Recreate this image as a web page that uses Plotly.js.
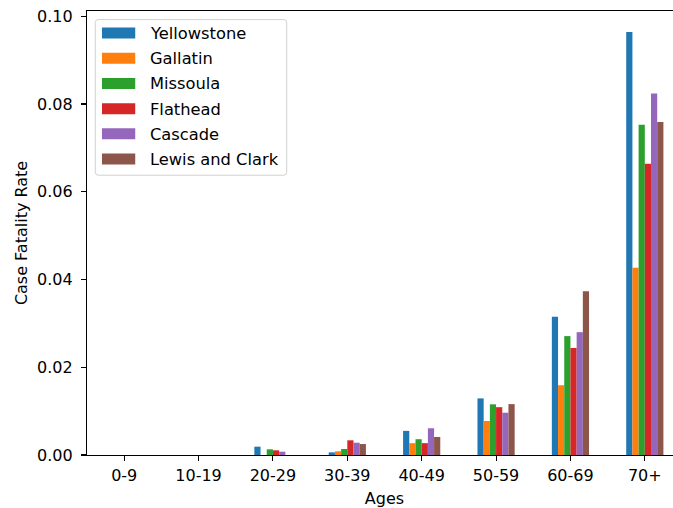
<!DOCTYPE html>
<html>
<head>
<meta charset="utf-8">
<script src="https://cdn.plot.ly/plotly-3.0.1.min.js"></script>
<style>
  html, body { margin: 0; padding: 0; overflow: hidden; background: #fff; }
  #chart { width: 700px; height: 508px; }
</style>
</head>
<body>
<div id="chart"></div>
<script>
// Case fatality rate by age group for six Montana counties
const ageGroups = ["0-9", "10-19", "20-29", "30-39", "40-49", "50-59", "60-69", "70+"];

const yellowstone   = [0, 0, 0.0019,  0.0006,  0.0055, 0.0129,  0.0315, 0.0964];
const gallatin      = [0, 0, 0,       0.00084, 0.0027, 0.00775, 0.0159, 0.0427];
const missoula      = [0, 0, 0.0013,  0.00137, 0.0036, 0.01155, 0.0271, 0.0753];
const flathead      = [0, 0, 0.00107, 0.00335, 0.0027, 0.0109,  0.0244, 0.0664];
const cascade       = [0, 0, 0.00075, 0.0028,  0.0061, 0.00964, 0.0280, 0.0824];
const lewisAndClark = [0, 0, 0,       0.0025,  0.0041, 0.0116,  0.0373, 0.0759];

const countyNames = ["Yellowstone", "Gallatin", "Missoula", "Flathead", "Cascade", "Lewis and Clark"];
const countyValues = [yellowstone, gallatin, missoula, flathead, cascade, lewisAndClark];
const countyColors = ["#1f77b4", "#ff7f0e", "#2ca02c", "#d62728", "#9467bd", "#8c564b"];

const FONT = "DejaVu Sans, sans-serif";
const FS = 16;

const traces = countyNames.map((name, i) => ({
  type: "bar",
  name: name,
  x: ageGroups,
  y: countyValues[i],
  marker: { color: countyColors[i], line: { width: 0 } },
  showlegend: false,
  hoverinfo: "x+y+name"
}));

// Plot-area geometry in pixels, used to place the legend box
const W = 700, H = 508;
const M = { l: 86.7, r: 17.5, t: 10.7, b: 53 };
const plotW = W - M.l - M.r, plotH = H - M.t - M.b;
const px = v => (v - M.l) / plotW;
const py = v => (H - M.b - v) / plotH;

// Legend frame (rounded rectangle) drawn in paper coordinates
const box = { x0: 95, y0: 19.3, x1: 286.7, y1: 175, r: 3 };
function roundedRect(b) {
  const rx = b.r / plotW, ry = b.r / plotH;
  const x0 = px(b.x0), x1 = px(b.x1), yt = py(b.y0), yb = py(b.y1);
  return `M ${x0 + rx} ${yt} L ${x1 - rx} ${yt} Q ${x1} ${yt} ${x1} ${yt - ry} ` +
         `L ${x1} ${yb + ry} Q ${x1} ${yb} ${x1 - rx} ${yb} ` +
         `L ${x0 + rx} ${yb} Q ${x0} ${yb} ${x0} ${yb + ry} ` +
         `L ${x0} ${yt - ry} Q ${x0} ${yt} ${x0 + rx} ${yt} Z`;
}

const shapes = [{
  type: "path", xref: "paper", yref: "paper",
  path: roundedRect(box),
  fillcolor: "rgba(255,255,255,0.8)",
  line: { color: "#d0d0d0", width: 1 }
}];
const annotations = [];
const rowStart = 32.8, rowStep = 25.2;
countyNames.forEach((name, i) => {
  const cy = rowStart + i * rowStep;
  shapes.push({
    type: "rect", xref: "paper", yref: "paper",
    x0: px(101.7), x1: px(135), y0: py(cy - 5.5), y1: py(cy + 5.5),
    fillcolor: countyColors[i], line: { width: 0 }
  });
  annotations.push({
    xref: "paper", yref: "paper", x: px(147.5), y: py(cy + 0.5),
    xanchor: "left", yanchor: "middle", showarrow: false,
    text: name, font: { family: FONT, size: 16.3, color: "#000" }
  });
});

const layout = {
  width: W, height: H,
  margin: M,
  paper_bgcolor: "#fff", plot_bgcolor: "#fff",
  barmode: "group", bargap: 0.5, bargroupgap: 0,
  font: { family: FONT, size: FS, color: "#000" },
  xaxis: {
    type: "category",
    range: [-0.5, 7.5],
    showgrid: false, zeroline: false,
    showline: true, linecolor: "#000", linewidth: 1.1, mirror: true,
    ticks: "outside", ticklen: 5, tickwidth: 1.1, tickcolor: "#000",
    ticklabelstandoff: 1,
    tickfont: { family: FONT, size: FS, color: "#000" },
    title: { text: "Ages", font: { family: FONT, size: FS, color: "#000" }, standoff: 8 }
  },
  yaxis: {
    range: [0, 0.1012],
    dtick: 0.02, tick0: 0, tickformat: ".2f",
    showgrid: false, zeroline: false,
    showline: true, linecolor: "#000", linewidth: 1.1, mirror: true,
    ticks: "outside", ticklen: 5, tickwidth: 1.1, tickcolor: "#000",
    ticklabelstandoff: 5,
    tickfont: { family: FONT, size: FS, color: "#000" },
    title: { text: "Case Fatality Rate", font: { family: FONT, size: FS, color: "#000" }, standoff: 5 }
  },
  shapes: shapes,
  annotations: annotations
};

Plotly.newPlot("chart", traces, layout, { displayModeBar: false, staticPlot: true });
</script>
</body>
</html>
